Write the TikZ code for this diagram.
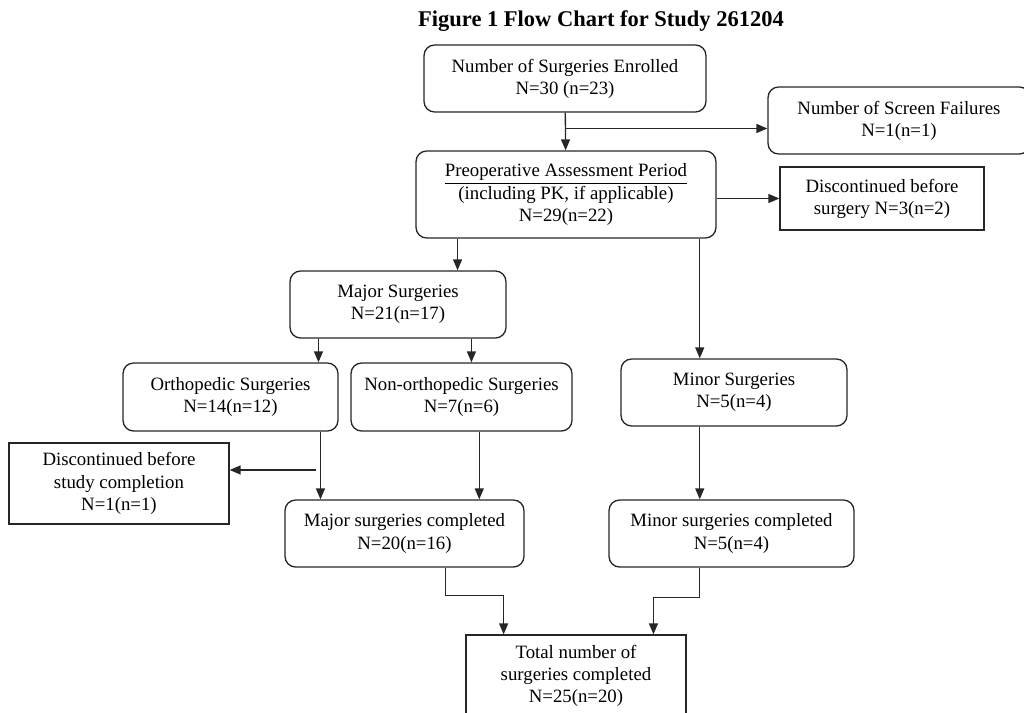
\documentclass[tikz,border=0pt]{standalone}
\usepackage{fontspec}
\setmainfont{Liberation Serif}
\usetikzlibrary{arrows.meta,positioning,calc}

\begin{document}
\begin{tikzpicture}[x=0.02cm, y=-0.02cm, font=\fontsize{10.7}{12.6}\selectfont]
  \tikzstyle{box}=[draw=black!85, line width=0.75pt, fill=white, align=center, inner sep=0pt, minimum height=1.34cm]
  \tikzstyle{rbox}=[box, rounded corners=6pt]
  \tikzstyle{arrow}=[-{Triangle[length=2.2mm, width=1.8mm]}, line width=0.75pt, color=black!85]

  \clip (0,0) rectangle (1024,713);

  \node[anchor=base, font=\fontsize{12.8}{15}\selectfont\bfseries] (title) at (601,27) {Figure 1 Flow Chart for Study 261204};

  \node[rbox, minimum width=5.64cm] (enrolled) at (565,78.5) {Number of Surgeries Enrolled\\N=30 (n=23)};
  \node[rbox, minimum width=5.24cm] (screen) at (899,120.5) {Number of Screen Failures\\N=1(n=1)};
  \node[rbox, minimum width=6.0cm, minimum height=1.74cm] (preop) at (566,194.5) {\underline{Preoperative Assessment Period}\\(including PK, if applicable)\\N=29(n=22)};
  \node[box, minimum width=4.08cm, minimum height=1.26cm] (discsurg) at (882,198.5) {Discontinued before\\surgery N=3(n=2)};
  \node[rbox, minimum width=4.32cm] (major) at (398,304.5) {Major Surgeries\\N=21(n=17)};
  \node[rbox, minimum width=4.52cm] (minor) at (734,392.5) {Minor Surgeries\\N=5(n=4)};
  \node[rbox, minimum width=4.3cm, minimum height=1.36cm] (ortho) at (230.5,397) {Orthopedic Surgeries\\N=14(n=12)};
  \node[rbox, minimum width=4.42cm, minimum height=1.36cm] (nonortho) at (461.5,397) {Non-orthopedic Surgeries\\N=7(n=6)};
  \node[box, minimum width=4.4cm, minimum height=1.62cm] (discstudy) at (119,483.5) {Discontinued before\\study completion\\N=1(n=1)};
  \node[rbox, minimum width=4.78cm] (majordone) at (404.5,533.5) {Major surgeries completed\\N=20(n=16)};
  \node[rbox, minimum width=4.9cm] (minordone) at (731.5,533.5) {Minor surgeries completed\\N=5(n=4)};
  \node[box, minimum width=4.4cm, minimum height=1.64cm] (total) at (576,676) {Total number of\\surgeries completed\\N=25(n=20)};

  \coordinate (split) at ($(enrolled.south)!0.42!(preop.north)$);
  \coordinate (drop) at (316,470);
  \coordinate (tomajor) at ($(preop.south west)!0.14!(preop.south east)$);
  \coordinate (tominor) at ($(preop.south west)!0.944!(preop.south east)$);
  \coordinate (toortho) at ($(major.south west)!0.134!(major.south east)$);
  \coordinate (tononortho) at ($(major.south west)!0.838!(major.south east)$);
  \coordinate (orthoout) at ($(ortho.south west)!0.916!(ortho.south east)$);
  \coordinate (nonorthoout) at ($(nonortho.south west)!0.58!(nonortho.south east)$);

  \draw[arrow] (enrolled) -- (preop);
  \draw[arrow] (split) -- (split -| screen.west);
  \draw[arrow] (preop.east |- discsurg.west) -- (discsurg.west);
  \draw[arrow] (tomajor) -- (tomajor |- major.north);
  \draw[arrow] (tominor) -- (tominor |- minor.north);
  \draw[arrow] (toortho) -- (toortho |- ortho.north);
  \draw[arrow] (tononortho) -- (tononortho |- nonortho.north);
  \draw[arrow] (orthoout) -- (orthoout |- majordone.north);
  \draw[arrow] (nonorthoout) -- (nonorthoout |- majordone.north);
  \draw[arrow] (drop) -- (drop -| discstudy.east);
  \draw[arrow] (tominor |- minor.south) -- (tominor |- minordone.north);
  \draw[arrow] ($(majordone.south west)!0.67!(majordone.south east)$) -- ++(0,28) -| ($(total.north west)!0.173!(total.north east)$);
  \draw[arrow] (tominor |- minordone.south) -- ++(0,30) -| ($(total.north west)!0.85!(total.north east)$);
\end{tikzpicture}
\end{document}
